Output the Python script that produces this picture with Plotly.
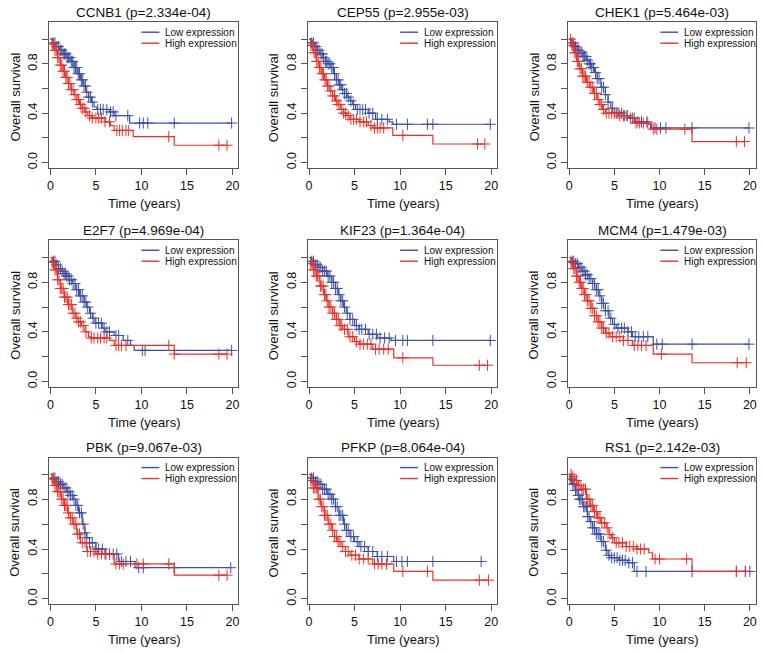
import plotly.graph_objects as go

# ---------------- data ----------------
genes = ["CCNB1", "CEP55", "CHEK1", "E2F7", "KIF23", "MCM4", "PBK", "PFKP", "RS1"]
pvalues = ["2.334e-04", "2.955e-03", "5.464e-03", "4.969e-04", "1.364e-04",
           "1.479e-03", "9.067e-03", "8.064e-04", "2.142e-03"]
x_ticks = [0, 5, 10, 15, 20]
y_ticks = [0.0, 0.2, 0.4, 0.6, 0.8, 1.0]
y_ticktext = ["0.0", "", "0.4", "", "0.8", ""]
legend_labels = ["Low expression", "High expression"]
x_title = "Time (years)"
y_title = "Overall survival"

# CCNB1
ccnb1_low_t = [0, 0.3, 0.6, 1.0, 1.4, 1.8, 2.2, 2.6, 3.0, 3.3, 3.6, 3.9, 4.2, 4.5, 4.8, 5.1, 6.5, 7.0, 8.7, 19.9]
ccnb1_low_s = [1, 0.97, 0.94, 0.91, 0.88, 0.85, 0.82, 0.77, 0.72, 0.67, 0.62, 0.57, 0.53, 0.49, 0.45, 0.43, 0.41, 0.38, 0.32, 0.32]
ccnb1_low_c = [0.3, 0.5, 0.7, 0.9, 1.1, 1.25, 1.4, 1.55, 1.7, 1.85, 2.0, 2.15, 2.3, 2.45, 2.6, 2.75, 2.9, 3.05, 3.2, 3.4,
               3.55, 3.7, 3.85, 4.0, 4.2, 4.4, 4.6, 5.2, 5.5, 5.8, 6.2, 6.6, 6.9, 7.2, 8.5, 9.8, 10.2, 10.7, 13.6, 19.9]
ccnb1_high_t = [0, 0.2, 0.5, 0.8, 1.1, 1.4, 1.7, 2.0, 2.3, 2.6, 2.9, 3.2, 3.5, 3.8, 4.1, 4.5, 6.0, 6.6, 7.0, 9.1, 13.6, 19.4]
ccnb1_high_s = [1, 0.96, 0.91, 0.85, 0.79, 0.74, 0.69, 0.64, 0.59, 0.55, 0.51, 0.47, 0.44, 0.41, 0.38, 0.36, 0.33, 0.30, 0.26, 0.21, 0.14, 0.14]
ccnb1_high_c = [0.2, 0.35, 0.5, 0.65, 0.8, 0.95, 1.1, 1.25, 1.4, 1.55, 1.7, 1.85, 2.0, 2.15, 2.3, 2.5, 2.7, 2.9, 3.1, 3.3,
                3.5, 3.7, 3.9, 4.3, 4.6, 5.0, 5.3, 5.6, 6.0, 6.5, 7.3, 7.6, 7.9, 8.3, 8.6, 13.0, 18.5, 19.4]

# CEP55
cep55_low_t = [0, 0.3, 0.6, 0.9, 1.2, 1.5, 1.8, 2.1, 2.4, 2.7, 3.0, 3.3, 3.6, 3.9, 4.2, 4.5, 4.8, 5.1, 6.5, 7.3, 8.8, 9.2, 19.9]
cep55_low_s = [1, 0.97, 0.94, 0.91, 0.88, 0.85, 0.82, 0.80, 0.77, 0.72, 0.67, 0.63, 0.59, 0.56, 0.53, 0.50, 0.47, 0.43, 0.40, 0.35, 0.33, 0.31, 0.31]
cep55_low_c = [0.3, 0.5, 0.75, 0.9, 1.1, 1.3, 1.45, 1.6, 1.8, 1.95, 2.1, 2.3, 2.5, 2.65, 2.8, 3.0, 3.2, 3.35, 3.5, 3.7,
               3.9, 4.1, 4.3, 4.6, 4.9, 5.3, 5.6, 5.9, 6.2, 6.6, 7.0, 7.5, 8.0, 8.6, 9.6, 10.8, 13.0, 13.6, 19.9]
cep55_high_t = [0, 0.2, 0.5, 0.8, 1.1, 1.4, 1.7, 2.0, 2.3, 2.6, 2.9, 3.2, 3.5, 3.8, 4.1, 4.5, 5.5, 6.5, 7.0, 9.2, 13.6, 19.3]
cep55_high_s = [1, 0.95, 0.89, 0.82, 0.77, 0.72, 0.67, 0.62, 0.58, 0.54, 0.50, 0.47, 0.43, 0.40, 0.38, 0.35, 0.33, 0.30, 0.28, 0.22, 0.15, 0.15]
cep55_high_c = [0.2, 0.4, 0.55, 0.7, 0.85, 1.0, 1.15, 1.3, 1.45, 1.6, 1.75, 1.9, 2.05, 2.2, 2.4, 2.6, 2.8, 3.0, 3.2, 3.4,
                3.6, 3.8, 4.0, 4.3, 4.6, 4.9, 5.2, 5.6, 6.0, 6.3, 6.8, 7.2, 7.5, 7.8, 8.2, 10.3, 18.5, 19.3]

# CHEK1
chek1_low_t = [0, 0.3, 0.6, 0.9, 1.2, 1.5, 1.9, 2.2, 2.5, 2.8, 3.1, 3.5, 4.0, 4.3, 4.6, 5.0, 6.0, 6.7, 7.3, 8.7, 9.1, 19.9]
chek1_low_s = [1, 0.97, 0.94, 0.91, 0.89, 0.86, 0.83, 0.80, 0.77, 0.73, 0.68, 0.61, 0.55, 0.49, 0.44, 0.40, 0.38, 0.36, 0.33, 0.31, 0.28, 0.28]
chek1_low_c = [0.3, 0.5, 0.7, 0.9, 1.05, 1.2, 1.4, 1.55, 1.7, 1.85, 2.0, 2.2, 2.35, 2.5, 2.7, 2.9, 3.1, 3.3, 3.6, 3.8,
               4.0, 4.3, 4.8, 5.2, 5.5, 5.8, 6.1, 6.4, 6.8, 7.2, 7.6, 8.0, 8.6, 9.5, 10.1, 10.7, 13.6, 19.9]
chek1_high_t = [0, 0.2, 0.5, 0.8, 1.1, 1.5, 1.9, 2.3, 2.7, 3.1, 3.4, 3.7, 4.0, 5.5, 6.5, 7.2, 9.0, 13.6, 19.4]
chek1_high_s = [1, 0.95, 0.89, 0.82, 0.76, 0.70, 0.65, 0.61, 0.56, 0.51, 0.47, 0.43, 0.40, 0.38, 0.36, 0.32, 0.27, 0.17, 0.17]
chek1_high_c = [0.15, 0.3, 0.45, 0.6, 0.75, 0.9, 1.05, 1.2, 1.35, 1.5, 1.65, 1.8, 2.0, 2.2, 2.4, 2.6, 2.8, 3.0, 3.2, 3.4,
                3.6, 3.8, 4.1, 4.4, 4.7, 5.0, 5.3, 5.6, 6.0, 6.4, 7.0, 7.4, 7.8, 8.2, 8.7, 9.3, 9.7, 12.8, 18.5, 19.4]

# E2F7
e2f7_low_t = [0, 0.3, 0.6, 0.9, 1.2, 1.5, 1.8, 2.1, 2.4, 2.8, 3.2, 3.7, 4.0, 4.3, 4.6, 4.9, 5.7, 6.0, 7.0, 8.0, 8.8, 9.2, 19.9]
e2f7_low_s = [1, 0.97, 0.94, 0.91, 0.89, 0.87, 0.85, 0.82, 0.79, 0.74, 0.69, 0.64, 0.60, 0.55, 0.51, 0.47, 0.43, 0.40, 0.37, 0.33, 0.29, 0.25, 0.25]
e2f7_low_c = [0.3, 0.5, 0.7, 0.9, 1.1, 1.3, 1.5, 1.65, 1.8, 1.95, 2.1, 2.3, 2.5, 2.7, 2.9, 3.1, 3.3, 3.5, 3.7, 3.9,
              4.1, 4.4, 4.7, 5.0, 5.3, 5.6, 5.9, 6.2, 6.5, 7.2, 7.5, 8.5, 10.1, 10.4, 19.9]
e2f7_high_t = [0, 0.2, 0.5, 0.8, 1.1, 1.5, 1.9, 2.4, 2.8, 3.1, 3.4, 3.8, 4.2, 4.4, 6.5, 7.0, 13.6, 19.4]
e2f7_high_s = [1, 0.96, 0.90, 0.82, 0.75, 0.68, 0.62, 0.55, 0.51, 0.48, 0.45, 0.40, 0.36, 0.35, 0.33, 0.29, 0.22, 0.22]
e2f7_high_c = [0.2, 0.35, 0.5, 0.65, 0.8, 0.95, 1.1, 1.25, 1.4, 1.55, 1.7, 1.85, 2.0, 2.15, 2.3, 2.5, 2.7, 2.9, 3.1, 3.3,
               3.6, 3.9, 4.5, 4.8, 5.2, 5.5, 5.9, 6.2, 7.2, 7.5, 7.8, 8.3, 13.0, 13.6, 18.5, 19.4]

# KIF23
kif23_low_t = [0, 0.3, 0.7, 1.0, 1.5, 2.0, 2.5, 2.9, 3.2, 3.5, 3.8, 4.1, 4.5, 5.0, 5.5, 6.5, 7.5, 9.0, 19.9]
kif23_low_s = [1, 0.97, 0.94, 0.92, 0.89, 0.85, 0.80, 0.75, 0.70, 0.65, 0.60, 0.55, 0.50, 0.45, 0.42, 0.38, 0.35, 0.33, 0.33]
kif23_low_c = [0.3, 0.5, 0.7, 0.9, 1.1, 1.3, 1.5, 1.7, 1.9, 2.1, 2.3, 2.5, 2.7, 2.9, 3.1, 3.3, 3.5, 3.7, 3.9, 4.2,
               4.5, 4.8, 5.2, 5.5, 5.8, 6.2, 6.6, 7.0, 7.4, 7.8, 8.3, 8.8, 9.5, 10.3, 10.8, 13.6, 19.9]
kif23_high_t = [0, 0.2, 0.5, 0.8, 1.2, 1.6, 1.9, 2.2, 2.6, 3.0, 3.4, 3.7, 4.3, 5.0, 5.5, 7.0, 9.3, 13.6, 19.6]
kif23_high_s = [1, 0.95, 0.90, 0.85, 0.77, 0.70, 0.65, 0.60, 0.55, 0.50, 0.45, 0.42, 0.36, 0.32, 0.30, 0.26, 0.19, 0.13, 0.13]
kif23_high_c = [0.2, 0.35, 0.5, 0.65, 0.8, 0.95, 1.1, 1.25, 1.4, 1.55, 1.7, 1.85, 2.0, 2.2, 2.4, 2.6, 2.8, 3.0, 3.2, 3.4,
                3.6, 3.9, 4.2, 4.5, 4.8, 5.2, 5.6, 6.0, 6.4, 6.8, 7.3, 7.7, 8.2, 8.7, 10.3, 18.7, 19.6]

# MCM4
mcm4_low_t = [0, 0.3, 0.6, 1.0, 1.4, 1.8, 2.2, 2.6, 3.0, 3.3, 3.6, 4.0, 4.4, 4.8, 5.2, 6.5, 7.0, 9.3, 19.9]
mcm4_low_s = [1, 0.97, 0.95, 0.92, 0.89, 0.86, 0.83, 0.79, 0.74, 0.69, 0.63, 0.57, 0.51, 0.46, 0.43, 0.40, 0.36, 0.30, 0.30]
mcm4_low_c = [0.3, 0.5, 0.7, 0.9, 1.1, 1.3, 1.5, 1.65, 1.8, 2.0, 2.2, 2.4, 2.6, 2.8, 3.0, 3.2, 3.4, 3.6, 3.8, 4.0,
              4.3, 4.6, 5.0, 5.4, 5.8, 6.1, 6.5, 6.9, 7.3, 7.7, 8.2, 8.7, 9.7, 10.3, 13.6, 19.9]
mcm4_high_t = [0, 0.2, 0.5, 0.8, 1.1, 1.4, 1.7, 2.0, 2.4, 2.8, 3.2, 3.6, 4.0, 4.5, 6.0, 7.0, 9.3, 13.6, 19.6]
mcm4_high_s = [1, 0.96, 0.91, 0.85, 0.80, 0.75, 0.70, 0.65, 0.59, 0.53, 0.48, 0.43, 0.39, 0.36, 0.33, 0.29, 0.22, 0.15, 0.15]
mcm4_high_c = [0.2, 0.35, 0.5, 0.65, 0.8, 0.95, 1.1, 1.25, 1.4, 1.55, 1.7, 1.85, 2.0, 2.2, 2.4, 2.6, 2.8, 3.0, 3.2, 3.4,
               3.6, 3.8, 4.1, 4.4, 4.8, 5.2, 5.6, 6.0, 6.5, 7.2, 7.6, 8.0, 8.5, 10.2, 18.6, 19.6]

# PBK
pbk_low_t = [0, 0.3, 0.7, 1.0, 1.4, 1.8, 2.2, 2.5, 2.8, 3.1, 3.5, 3.8, 4.0, 4.3, 5.0, 6.0, 7.5, 9.3, 19.8]
pbk_low_s = [1, 0.97, 0.94, 0.92, 0.89, 0.86, 0.83, 0.80, 0.75, 0.69, 0.60, 0.53, 0.49, 0.45, 0.40, 0.36, 0.30, 0.25, 0.25]
pbk_low_c = [0.3, 0.5, 0.7, 0.9, 1.1, 1.3, 1.5, 1.7, 1.9, 2.05, 2.2, 2.4, 2.6, 2.8, 3.0, 3.2, 3.4, 3.6, 3.8, 4.0,
             4.3, 4.6, 5.0, 5.3, 5.7, 6.1, 6.5, 6.9, 7.3, 7.8, 8.3, 8.8, 9.7, 10.2, 13.6, 19.8]
pbk_high_t = [0, 0.2, 0.5, 0.8, 1.2, 1.5, 1.9, 2.2, 2.5, 2.9, 3.3, 4.0, 5.0, 7.0, 13.6, 19.4]
pbk_high_s = [1, 0.96, 0.91, 0.86, 0.80, 0.75, 0.69, 0.65, 0.60, 0.52, 0.45, 0.38, 0.36, 0.28, 0.19, 0.19]
pbk_high_c = [0.2, 0.35, 0.5, 0.65, 0.8, 0.95, 1.1, 1.25, 1.4, 1.55, 1.7, 1.85, 2.0, 2.2, 2.4, 2.6, 2.8, 3.0, 3.2, 3.5,
              3.8, 4.1, 4.4, 4.8, 5.2, 5.6, 6.0, 6.5, 7.2, 7.6, 8.0, 9.5, 10.2, 13.0, 18.5, 19.4]

# PFKP
pfkp_low_t = [0, 0.3, 0.7, 1.0, 1.5, 2.0, 2.5, 2.9, 3.3, 3.8, 4.1, 4.5, 5.0, 5.5, 6.5, 7.5, 9.3, 18.9]
pfkp_low_s = [1, 0.97, 0.94, 0.92, 0.88, 0.84, 0.80, 0.74, 0.67, 0.60, 0.55, 0.50, 0.46, 0.42, 0.38, 0.34, 0.30, 0.30]
pfkp_low_c = [0.3, 0.5, 0.7, 0.9, 1.1, 1.3, 1.5, 1.7, 1.9, 2.1, 2.3, 2.5, 2.7, 2.9, 3.1, 3.3, 3.5, 3.7, 3.9, 4.1,
              4.3, 4.6, 4.9, 5.3, 5.7, 6.1, 6.5, 7.0, 7.5, 8.0, 8.6, 9.6, 10.2, 10.8, 13.6, 18.9]
pfkp_high_t = [0, 0.2, 0.5, 1.0, 1.3, 1.7, 2.1, 2.5, 2.8, 3.1, 3.5, 4.0, 4.5, 5.5, 7.0, 9.3, 13.6, 19.7]
pfkp_high_s = [1, 0.95, 0.89, 0.80, 0.74, 0.67, 0.60, 0.55, 0.50, 0.46, 0.42, 0.38, 0.35, 0.32, 0.28, 0.22, 0.15, 0.15]
pfkp_high_c = [0.2, 0.35, 0.5, 0.65, 0.8, 0.95, 1.1, 1.25, 1.4, 1.55, 1.7, 1.85, 2.0, 2.2, 2.4, 2.6, 2.8, 3.0, 3.2, 3.4,
               3.7, 4.0, 4.3, 4.7, 5.1, 5.5, 6.0, 6.5, 7.2, 7.6, 8.0, 8.5, 10.3, 13.0, 18.7, 19.7]

# RS1
rs1_low_t = [0, 0.1, 0.4, 0.7, 1.0, 1.15, 1.5, 2.0, 2.3, 2.6, 3.0, 3.5, 4.0, 4.3, 4.5, 5.5, 6.5, 7.2, 20.0]
rs1_low_s = [1, 0.96, 0.92, 0.87, 0.83, 0.80, 0.74, 0.66, 0.62, 0.57, 0.52, 0.46, 0.39, 0.35, 0.33, 0.31, 0.29, 0.22, 0.22]
rs1_low_c = [0.1, 0.25, 0.4, 0.55, 0.7, 0.85, 1.0, 1.15, 1.3, 1.45, 1.6, 1.75, 1.9, 2.05, 2.2, 2.4, 2.6, 2.8, 3.0, 3.2,
             3.4, 3.6, 3.8, 4.1, 4.4, 4.7, 5.0, 5.3, 5.6, 5.9, 6.2, 6.6, 7.0, 7.5, 8.5, 13.6, 18.5, 19.5, 20.0]
rs1_high_t = [0, 0.3, 0.6, 1.0, 1.35, 1.9, 2.3, 2.7, 3.1, 3.5, 4.1, 4.4, 4.7, 5.0, 6.3, 7.5, 8.8, 9.2, 13.6, 19.5]
rs1_high_s = [1, 0.98, 0.95, 0.91, 0.88, 0.80, 0.75, 0.70, 0.65, 0.61, 0.57, 0.515, 0.49, 0.45, 0.42, 0.40, 0.37, 0.32, 0.22, 0.22]
rs1_high_c = [0.2, 0.4, 0.6, 0.8, 1.0, 1.2, 1.4, 1.6, 1.8, 2.0, 2.2, 2.4, 2.6, 2.8, 3.0, 3.2, 3.4, 3.6, 3.9, 4.2,
              4.5, 4.8, 5.2, 5.5, 5.9, 6.3, 6.7, 7.1, 7.5, 7.9, 8.3, 9.5, 10.0, 13.0, 18.5, 19.5]

panels = [
    (ccnb1_low_t, ccnb1_low_s, ccnb1_low_c, ccnb1_high_t, ccnb1_high_s, ccnb1_high_c),
    (cep55_low_t, cep55_low_s, cep55_low_c, cep55_high_t, cep55_high_s, cep55_high_c),
    (chek1_low_t, chek1_low_s, chek1_low_c, chek1_high_t, chek1_high_s, chek1_high_c),
    (e2f7_low_t, e2f7_low_s, e2f7_low_c, e2f7_high_t, e2f7_high_s, e2f7_high_c),
    (kif23_low_t, kif23_low_s, kif23_low_c, kif23_high_t, kif23_high_s, kif23_high_c),
    (mcm4_low_t, mcm4_low_s, mcm4_low_c, mcm4_high_t, mcm4_high_s, mcm4_high_c),
    (pbk_low_t, pbk_low_s, pbk_low_c, pbk_high_t, pbk_high_s, pbk_high_c),
    (pfkp_low_t, pfkp_low_s, pfkp_low_c, pfkp_high_t, pfkp_high_s, pfkp_high_c),
    (rs1_low_t, rs1_low_s, rs1_low_c, rs1_high_t, rs1_high_s, rs1_high_c),
]

# ---------------- styling / layout ----------------
W, H = 765, 654
BLUE = "#3d50a5"
RED = "#e6332a"
BOX = "#555555"
FONT = "Liberation Sans, Arial, Helvetica, sans-serif"

col_left = [46.7, 306.7, 568.3]
col_right = [236.7, 496.7, 756.7]
row_top = [22.3, 241.0, 459.0]
row_bot = [169.0, 388.0, 605.7]
row_y1 = [39.3, 258.3, 475.7]   # pixel of survival 1.0
row_y0 = [163.0, 382.5, 600.7]  # pixel of survival 0.0
x_range = [-0.1, 20.65]


def step_value(ts, ss, c):
    v = ss[0]
    for t, s in zip(ts, ss):
        if t <= c:
            v = s
        else:
            break
    return v


fig = go.Figure()
layout = dict(width=W, height=H, margin=dict(l=0, r=0, t=0, b=0),
              paper_bgcolor="white", plot_bgcolor="white", showlegend=False,
              font=dict(family=FONT, color="#111111"))
annotations = []
shapes = []

for i, (gene, pv, pdata) in enumerate(zip(genes, pvalues, panels)):
    r, c = divmod(i, 3)
    k = i + 1
    xa = "x" if k == 1 else f"x{k}"
    ya = "y" if k == 1 else f"y{k}"
    lt, ls, lc, ht, hs, hc = pdata

    for ts, ss, cs, col in ((lt, ls, lc, BLUE), (ht, hs, hc, RED)):
        fig.add_trace(go.Scatter(x=ts, y=ss, mode="lines", line=dict(color=col, width=1.2, shape="hv"),
                                 xaxis=xa, yaxis=ya, hoverinfo="skip"))
        fig.add_trace(go.Scatter(x=cs, y=[step_value(ts, ss, cc) for cc in cs], mode="markers",
                                 marker=dict(symbol="cross-thin", size=8, line=dict(color=col, width=1)),
                                 xaxis=xa, yaxis=ya, hoverinfo="skip"))

    L, R = col_left[c], col_right[c]
    T, B = row_top[r], row_bot[r]
    ppu = row_y0[r] - row_y1[r]
    y_lo = -(B - row_y0[r]) / ppu
    y_hi = 1 + (row_y1[r] - T) / ppu

    axis_common = dict(showgrid=False, zeroline=False, showline=True, mirror=True,
                       linecolor=BOX, linewidth=1, ticks="outside", ticklen=6,
                       tickcolor=BOX, tickwidth=1, tickfont=dict(size=12.5, family=FONT, color="#111111"))
    layout["xaxis" if k == 1 else f"xaxis{k}"] = dict(
        axis_common, domain=[L / W, R / W], range=x_range, tickvals=x_ticks,
        anchor=ya)
    layout["yaxis" if k == 1 else f"yaxis{k}"] = dict(
        axis_common, domain=[1 - B / H, 1 - T / H], range=[y_lo, y_hi],
        tickvals=y_ticks, ticktext=y_ticktext, tickangle=-90, anchor=xa)

    cx = (L + R) / 2
    annotations.append(dict(text=f"{gene} (p={pv})", x=cx / W, y=1 - (T - 10.2) / H,
                            xref="paper", yref="paper", showarrow=False,
                            font=dict(size=13.5, family=FONT, color="#111111"),
                            xanchor="center", yanchor="middle"))
    annotations.append(dict(text=x_title, x=cx / W, y=1 - (B + 35.5) / H,
                            xref="paper", yref="paper", showarrow=False,
                            font=dict(size=13, family=FONT, color="#111111"),
                            xanchor="center", yanchor="middle"))
    annotations.append(dict(text=y_title, x=(L - 34.5) / W, y=1 - ((T + B) / 2 + 2) / H,
                            xref="paper", yref="paper", showarrow=False, textangle=-90,
                            font=dict(size=13, family=FONT, color="#111111"),
                            xanchor="center", yanchor="middle"))
    # legend inside the box (top right)
    for j, (lab, col) in enumerate(zip(legend_labels, (BLUE, RED))):
        ypx = T + 10.0 + j * 11.0
        yp = 1 - ypx / H
        shapes.append(dict(type="line", xref="paper", yref="paper",
                           x0=(L + 92.5) / W, x1=(L + 110.5) / W, y0=yp, y1=yp,
                           line=dict(color=col, width=1.4)))
        annotations.append(dict(text=lab, x=(L + 114.0) / W, y=yp, xref="paper", yref="paper",
                                showarrow=False, xanchor="left", yanchor="middle",
                                font=dict(size=10, family=FONT, color="#111111")))

layout["annotations"] = annotations
layout["shapes"] = shapes
fig.update_layout(**layout)
fig.write_html("out.html", config={"displayModeBar": False, "staticPlot": True},
               post_script="document.body.style.margin='0';document.body.style.padding='0';"
                           "document.body.style.overflow='hidden';")
